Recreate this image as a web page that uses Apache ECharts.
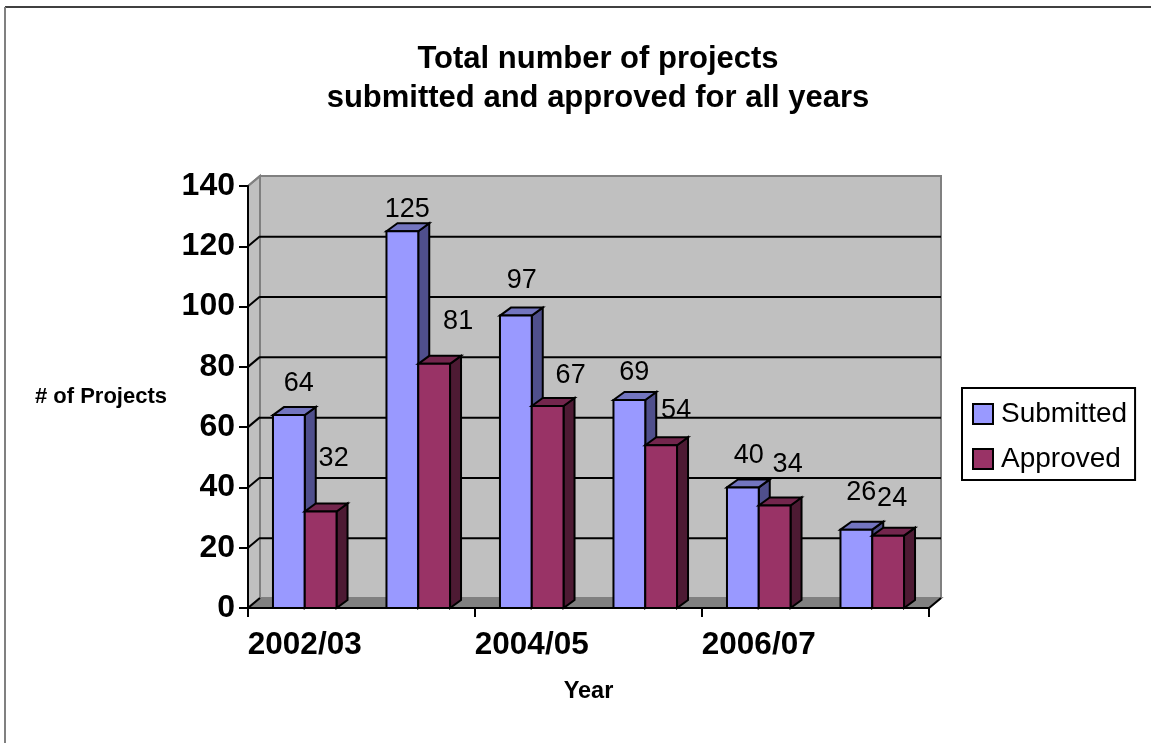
<!DOCTYPE html>
<html><head><meta charset="utf-8">
<style>html,body{margin:0;padding:0;background:#fff}#c{width:1151px;height:743px}</style>
<script src="https://cdn.jsdelivr.net/npm/echarts@6/dist/echarts.min.js"></script>
</head><body><div id="c"></div>
<script>
const categories = ['2002/03','2003/04','2004/05','2005/06','2006/07','2007/08'];
const submitted = [64,125,97,69,40,26];
const approved = [32,81,67,54,34,24];
const yTicks = [20,40,60,80,100,120,140];
const seriesNames = ['Submitted','Approved'];

// Layout only: where each value label sits relative to its bar's top-centre
const submittedLabelShift = [[10,-33],[5,-23],[6,-36],[5,-28],[6,-33],[5,-38]];
const approvedLabelShift = [[13,-54],[24,-43],[23,-31],[15,-36],[13,-42],[4,-38]];

const FONT = '"Liberation Sans", Arial, sans-serif';
const DX = 12, DY = 10, BDX = 11, BDY = 8;
const lw = 2;

function poly(points, fill, stroke, width){
  return {type:'polygon', shape:{points}, style:{fill, stroke:stroke||'#000', lineWidth:width==null?lw:width}};
}
function line(x1,y1,x2,y2,color,width){
  return {type:'line', shape:{x1,y1,x2,y2}, style:{stroke:color||'#000', lineWidth:width||lw}};
}

function renderWall(params, api){
  const c = params.coordSys;
  const x0 = c.x, x1 = c.x + c.width;
  const yb = api.coord([0,0])[1], yt = api.coord([0,140])[1];
  const kids = [
    poly([[x0+DX,yt-DY],[x1+DX,yt-DY],[x1+DX,yb-DY],[x0+DX,yb-DY]],'#C0C0C0','#808080'),
    poly([[x0,yt],[x0+DX,yt-DY],[x0+DX,yb-DY],[x0,yb]],'#C0C0C0','#808080'),
    poly([[x0,yb],[x0+DX,yb-DY],[x1+DX,yb-DY],[x1,yb]],'#808080','#808080')
  ];
  yTicks.forEach(v=>{
    const y = api.coord([0,v])[1];
    if (v < 140) kids.push(line(x0+DX,y-DY+0.5,x1+DX,y-DY+0.5));
    kids.push(line(x0,y,x0+DX,y-DY, v===140?'#808080':'#000'));
  });
  kids.push(line(x0,yb,x0+DX,yb-DY));
  kids.push(line(x1,yb,x1+DX,yb-DY));
  return {type:'group', children:kids};
}

function barRenderer(offsetSign, front, top, side, shifts){
  return function(params, api){
    const i = api.value(0), v = api.value(1);
    const p = api.coord([i,v]), b = api.coord([i,0]);
    const w = api.size([1,0])[0] * 0.28;
    const xl = offsetSign < 0 ? p[0]-w : p[0];
    const xr = xl + w, yt = p[1], yb = b[1];
    const s = shifts[params.dataIndex];
    return {type:'group', children:[
      poly([[xr,yt],[xr+BDX,yt-BDY],[xr+BDX,yb-BDY],[xr,yb]], side),
      poly([[xl,yt],[xl+BDX,yt-BDY],[xr+BDX,yt-BDY],[xr,yt]], top),
      poly([[xl,yt],[xr,yt],[xr,yb],[xl,yb]], front),
      {type:'text', z2:20, style:{text:String(v), x:(xl+xr)/2+s[0], y:yt+s[1]+1,
        font:'27px '+FONT, fill:'#000', align:'center', verticalAlign:'middle'}}
    ]};
  };
}

const axisLine = {show:true, onZero:false, lineStyle:{color:'#000', width:2}};
const axisTick = {show:true, length:9, lineStyle:{color:'#000', width:2}};

const option = {
  animation:false,
  backgroundColor:'#fff',
  textStyle:{fontFamily:FONT},
  graphic:[
    {type:'line', silent:true, shape:{x1:5,y1:7,x2:1151,y2:7}, style:{stroke:'#000',lineWidth:1.5}},
    {type:'line', silent:true, shape:{x1:5,y1:7,x2:5,y2:743}, style:{stroke:'#808080',lineWidth:2}}
  ],
  title:{
    text:'Total number of projects\nsubmitted and approved for all years',
    left:593, top:35, textAlign:'center',
    textStyle:{fontFamily:FONT, fontSize:31, fontWeight:'bold', color:'#000', lineHeight:39}
  },
  legend:{
    orient:'vertical', left:962, top:388,
    padding:[12,8,7,10], itemGap:17, itemWidth:20, itemHeight:20,
    backgroundColor:'#fff', borderColor:'#000', borderWidth:2, borderRadius:0,
    textStyle:{fontFamily:FONT, fontSize:28, color:'#000', padding:[0,0,0,3]},
    data:[
      {name:seriesNames[0], icon:'rect', itemStyle:{color:'#9999FF', borderColor:'#000', borderWidth:2}},
      {name:seriesNames[1], icon:'rect', itemStyle:{color:'#993366', borderColor:'#000', borderWidth:2}}
    ]
  },
  grid:{left:248, top:186, width:681, height:422},
  xAxis:{
    type:'category', data:categories, z:10,
    axisLine, axisTick:{...axisTick, alignWithLabel:false},
    axisLabel:{interval:1, fontFamily:FONT, fontSize:31.5, fontWeight:'bold', color:'#000', margin:21},
    name:'Year', nameLocation:'middle', nameGap:72,
    nameTextStyle:{fontFamily:FONT, fontSize:23.5, fontWeight:'bold', color:'#000'}
  },
  yAxis:{
    type:'value', min:0, max:140, interval:20, z:10,
    axisLine, axisTick, splitLine:{show:false},
    axisLabel:{fontFamily:FONT, fontSize:32, fontWeight:'bold', color:'#000', margin:13},
    name:'# of Projects', nameLocation:'middle', nameRotate:0, nameGap:81,
    nameTextStyle:{fontFamily:FONT, fontSize:22, fontWeight:'bold', color:'#000'}
  },
  series:[
    {type:'custom', name:'wall', silent:true, z:1, clip:false, data:[[0,0]], renderItem:renderWall, tooltip:{show:false}},
    {type:'custom', name:seriesNames[0], z:3, clip:false, itemStyle:{color:'#9999FF'},
      data:submitted.map((v,i)=>[i,v]), encode:{x:0,y:1},
      renderItem:barRenderer(-1,'#9999FF','#7375BF','#4F4F8C',submittedLabelShift)},
    {type:'custom', name:seriesNames[1], z:4, clip:false, itemStyle:{color:'#993366'},
      data:approved.map((v,i)=>[i,v]), encode:{x:0,y:1},
      renderItem:barRenderer(1,'#993366','#73264D','#4D1A33',approvedLabelShift)}
  ]
};
echarts.init(document.getElementById('c'),null,{renderer:'canvas'}).setOption(option);
</script>
</body></html>
